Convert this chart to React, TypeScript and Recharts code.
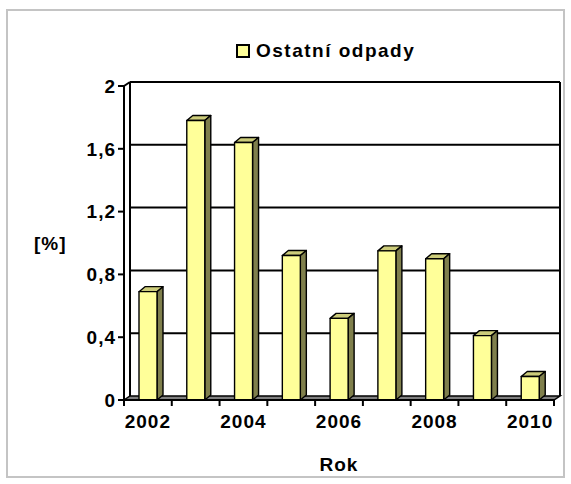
import React from "react";
import { BarChart, Bar, XAxis, YAxis, CartesianGrid, Legend } from "recharts";

const years = ["2002", "2003", "2004", "2005", "2006", "2007", "2008", "2009", "2010"];
const ostatniOdpady = [0.69, 1.78, 1.64, 0.92, 0.52, 0.95, 0.9, 0.41, 0.15];
const yTicks = [0, 0.4, 0.8, 1.2, 1.6, 2];
const boundaryTicks = [0, 1, 2, 3, 4, 5, 6, 7, 8, 9];
const seriesName = "Ostatní odpady";

const data = years.map((rok, i) => ({ rok, pos: i + 0.5, value: ostatniOdpady[i] }));

const FONT = "'Liberation Sans', Arial, sans-serif";
const FRONT = "#FFFF99";
const TOP = "#CCCC7A";
const SIDE = "#7F7F4C";
const FLOOR = "#808080";

// back wall offset (3D depth)
const WX = 6;
const WY = 4;
// bar depth
const BX = 6;
const BY = 5;

const textStyle = {
  fontFamily: FONT,
  fontSize: 19,
  fontWeight: 700,
  fill: "#000",
  letterSpacing: 1,
};

function Bar3D(props: any) {
  const { x, y, width, height } = props;
  if (height == null || width == null) return null;
  const r = x + width;
  const b = y + height;
  return (
    <g stroke="#000" strokeWidth={1.4} strokeLinejoin="round">
      <polygon points={`${x},${y} ${x + BX},${y - BY} ${r + BX},${y - BY} ${r},${y}`} fill={TOP} />
      <polygon points={`${r},${y} ${r + BX},${y - BY} ${r + BX},${b - BY} ${r},${b}`} fill={SIDE} />
      <rect x={x} y={y} width={width} height={height} fill={FRONT} />
    </g>
  );
}

// horizontal gridlines sit on the back wall; the top line also draws the wall frame and the floor
function WallLine(p: any) {
  const { x1, x2, y1, index } = p;
  const top = p.y ?? 0;
  const h = p.height ?? 0;
  const bottom = top + h;
  const isTop = Math.abs(y1 - top) < 0.5;
  const isBottom = Math.abs(y1 - bottom) < 0.5;
  return (
    <g key={`wall-${index}`} stroke="#000" strokeWidth={2} fill="none">
      {!isBottom && <line x1={x1 + WX} y1={y1 - WY} x2={x2 + WX} y2={y1 - WY} />}
      {isTop && (
        <>
          <polygon
            points={`${x1},${bottom} ${x2},${bottom} ${x2 + WX},${bottom - WY} ${x1 + WX},${bottom - WY}`}
            fill={FLOOR}
            strokeWidth={1.5}
          />
          <line x1={x1} y1={y1} x2={x1 + WX} y2={y1 - WY} />
          <line x1={x1 + WX} y1={y1 - WY} x2={x1 + WX} y2={bottom - WY} />
          <line x1={x2 + WX} y1={y1 - WY} x2={x2 + WX} y2={bottom - WY} />
        </>
      )}
    </g>
  );
}

function YTick(props: any) {
  const { x, y, payload } = props;
  return (
    <text x={x} y={y} dy="0.36em" textAnchor="end" style={textStyle}>
      {String(payload.value).replace(".", ",")}
    </text>
  );
}

function XTick(props: any) {
  const { x, y, payload } = props;
  return (
    <text x={x} y={y} dy="0.72em" textAnchor="middle" style={textStyle}>
      {payload.value}
    </text>
  );
}

function LegendBox() {
  return (
    <div style={{ display: "flex", alignItems: "center", fontFamily: FONT }}>
      <span
        style={{
          display: "inline-block",
          width: 14,
          height: 14,
          boxSizing: "border-box",
          background: FRONT,
          border: "2px solid #000",
          marginRight: 6,
        }}
      />
      <span style={{ fontSize: 19, fontWeight: 700, letterSpacing: 1.5, color: "#000" }}>{seriesName}</span>
    </div>
  );
}

export default function App() {
  return (
    <div style={{ position: "absolute", left: 0, top: 0, width: 571, height: 484, background: "#fff" }}>
      <div
        style={{
          position: "absolute",
          left: 6,
          top: 9,
          width: 559,
          height: 469,
          boxSizing: "border-box",
          border: "2px solid #C4C4C4",
        }}
      />
      <BarChart
        width={571}
        height={484}
        data={data}
        margin={{ top: 86, right: 17, bottom: 0, left: 24 }}
        barSize={18}
        style={{ position: "absolute", left: 0, top: 0 }}
      >
        <CartesianGrid xAxisId="years" vertical={false} horizontal={WallLine} />
        {/* boundary ticks between categories, right under the floor */}
        <XAxis
          xAxisId="base"
          type="number"
          dataKey="pos"
          domain={[0, 9]}
          ticks={boundaryTicks}
          height={8}
          tickSize={6}
          tickFormatter={() => ""}
          axisLine={{ stroke: "#000", strokeWidth: 2 }}
          tickLine={{ stroke: "#000", strokeWidth: 2 }}
        />
        <XAxis
          xAxisId="years"
          dataKey="rok"
          height={76}
          interval={1}
          axisLine={false}
          tickLine={false}
          tickSize={0}
          tickMargin={6}
          tick={<XTick />}
          label={{ value: "Rok", position: "insideBottom", offset: 13, style: textStyle }}
        />
        <YAxis
          width={100}
          domain={[0, 2]}
          ticks={yTicks}
          interval={0}
          tickSize={6}
          tickMargin={2}
          axisLine={{ stroke: "#000", strokeWidth: 2 }}
          tickLine={{ stroke: "#000", strokeWidth: 2 }}
          tick={<YTick />}
          label={{ value: "[%]", position: "insideLeft", offset: 10, angle: 0, style: textStyle }}
        />
        <Legend
          verticalAlign="middle"
          content={() => <LegendBox />}
          wrapperStyle={{ position: "absolute", top: 40, left: 236, width: "auto" }}
        />
        <Bar
          xAxisId="years"
          dataKey="value"
          name={seriesName}
          fill={FRONT}
          shape={<Bar3D />}
          isAnimationActive={false}
        />
      </BarChart>
    </div>
  );
}
